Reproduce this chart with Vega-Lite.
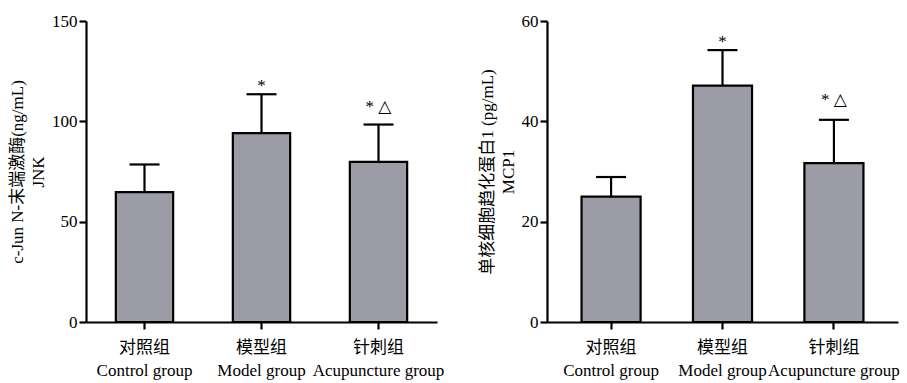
{
  "$schema": "https://vega.github.io/schema/vega-lite/v6.json",
  "background": "white",
  "padding": {"left": 8, "top": 12, "right": 5, "bottom": 2},
  "spacing": 34,
  "config": {
    "view": {"stroke": null},
    "font": "Liberation Serif",
    "axis": {
      "domainColor": "black",
      "domainWidth": 2.2,
      "tickColor": "black",
      "tickWidth": 2.2,
      "tickSize": 7,
      "grid": false,
      "labelColor": "black",
      "labelFont": "Liberation Serif, Noto Sans CJK SC",
      "labelFontSize": 17,
      "titleColor": "black",
      "titleFont": "Liberation Serif, Noto Sans CJK SC",
      "titleFontSize": 17,
      "titleFontWeight": "normal"
    }
  },
  "datasets": {
    "jnk": [
      {"group": "对照组|Control group", "mean": 64.7, "upper": 78.5, "sig": ""},
      {"group": "模型组|Model group", "mean": 94.1, "upper": 113.5, "sig": "*"},
      {"group": "针刺组|Acupuncture group", "mean": 79.8, "upper": 98.4, "sig": "* △"}
    ],
    "mcp": [
      {"group": "对照组|Control group", "mean": 25.0, "upper": 28.9, "sig": ""},
      {"group": "模型组|Model group", "mean": 47.1, "upper": 54.2, "sig": "*"},
      {"group": "针刺组|Acupuncture group", "mean": 31.65, "upper": 40.3, "sig": "* △"}
    ]
  },
  "hconcat": [
    {
      "width": 351,
      "height": 301,
      "data": {"name": "jnk"},
      "encoding": {
        "x": {
          "field": "group", "type": "nominal", "sort": null,
          "scale": {"paddingInner": 0.51, "paddingOuter": 0.255},
          "axis": {"title": null, "labelAngle": 0, "labelExpr": "split(datum.label, '|')", "labelLineHeight": 23, "labelPadding": 10, "labelBaseline": "top"}
        }
      },
      "layer": [
        {
          "mark": {"type": "rule", "color": "black", "strokeWidth": 2.2},
          "encoding": {
            "y": {"field": "mean", "type": "quantitative", "scale": {"domain": [0, 150], "nice": false},
              "axis": {"values": [0, 50, 100, 150], "title": ["c-Jun N-末端激酶(ng/mL)", "JNK"], "titleLineHeight": 21, "titlePadding": 4, "labelPadding": 2}},
            "y2": {"field": "upper"}
          }
        },
        {
          "mark": {"type": "tick", "color": "black", "thickness": 2.2, "size": 30, "opacity": 1},
          "encoding": {"y": {"field": "upper", "type": "quantitative", "scale": {"domain": [0, 150], "nice": false}}}
        },
        {
          "mark": {"type": "bar", "fill": "#9b9ca6", "stroke": "black", "strokeWidth": 2.2},
          "encoding": {"y": {"field": "mean", "type": "quantitative", "scale": {"domain": [0, 150], "nice": false}}}
        },
        {
          "transform": [{"filter": "datum.sig == '*'"}],
          "mark": {"type": "text", "font": "Liberation Serif, DejaVu Sans", "fontSize": 17, "baseline": "alphabetic", "dy": -3, "color": "black"},
          "encoding": {"y": {"field": "upper", "type": "quantitative", "scale": {"domain": [0, 150], "nice": false}}, "text": {"field": "sig"}}
        },
        {
          "transform": [{"filter": "datum.sig == '* △'"}],
          "mark": {"type": "text", "font": "Liberation Serif, DejaVu Sans", "fontSize": 17, "baseline": "alphabetic", "dy": -13, "color": "black"},
          "encoding": {"y": {"field": "upper", "type": "quantitative", "scale": {"domain": [0, 150], "nice": false}}, "text": {"field": "sig"}}
        }
      ]
    },
    {
      "width": 351,
      "height": 301,
      "data": {"name": "mcp"},
      "encoding": {
        "x": {
          "field": "group", "type": "nominal", "sort": null,
          "scale": {"paddingInner": 0.47, "paddingOuter": 0.31},
          "axis": {"title": null, "labelAngle": 0, "labelExpr": "split(datum.label, '|')", "labelLineHeight": 23, "labelPadding": 10, "labelBaseline": "top"}
        }
      },
      "layer": [
        {
          "mark": {"type": "rule", "color": "black", "strokeWidth": 2.2},
          "encoding": {
            "y": {"field": "mean", "type": "quantitative", "scale": {"domain": [0, 60], "nice": false},
              "axis": {"values": [0, 20, 40, 60], "title": ["单核细胞趋化蛋白1 (pg/mL)", "MCP1"], "titleLineHeight": 21, "titlePadding": 4, "labelPadding": 2}},
            "y2": {"field": "upper"}
          }
        },
        {
          "mark": {"type": "tick", "color": "black", "thickness": 2.2, "size": 30, "opacity": 1},
          "encoding": {"y": {"field": "upper", "type": "quantitative", "scale": {"domain": [0, 60], "nice": false}}}
        },
        {
          "mark": {"type": "bar", "fill": "#9b9ca6", "stroke": "black", "strokeWidth": 2.2},
          "encoding": {"y": {"field": "mean", "type": "quantitative", "scale": {"domain": [0, 60], "nice": false}}}
        },
        {
          "transform": [{"filter": "datum.sig == '*'"}],
          "mark": {"type": "text", "font": "Liberation Serif, DejaVu Sans", "fontSize": 17, "baseline": "alphabetic", "dy": -3, "color": "black"},
          "encoding": {"y": {"field": "upper", "type": "quantitative", "scale": {"domain": [0, 60], "nice": false}}, "text": {"field": "sig"}}
        },
        {
          "transform": [{"filter": "datum.sig == '* △'"}],
          "mark": {"type": "text", "font": "Liberation Serif, DejaVu Sans", "fontSize": 17, "baseline": "alphabetic", "dy": -15, "color": "black"},
          "encoding": {"y": {"field": "upper", "type": "quantitative", "scale": {"domain": [0, 60], "nice": false}}, "text": {"field": "sig"}}
        }
      ]
    }
  ]
}
